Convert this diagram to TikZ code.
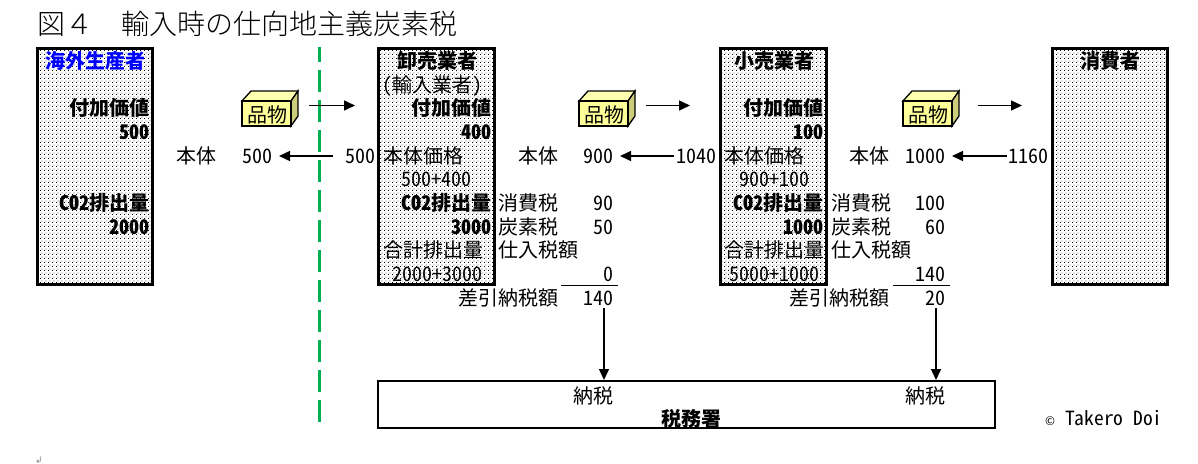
\documentclass[tikz,border=0pt]{standalone}
\usepackage{fontspec}
\setmainfont{Noto Sans CJK JP}[RawFeature=+hwid]
\newfontfamily\titlefont{Noto Sans CJK JP Light}
\newfontfamily\symbolfont{DejaVu Sans}
\usetikzlibrary{arrows.meta,patterns}
\definecolor{goodsfront}{HTML}{FFFF99}
\definecolor{goodstop}{HTML}{FFFFB0}
\definecolor{goodsside}{HTML}{CCCC7A}
\definecolor{borderline}{HTML}{00B050}
\newcommand{\diagfont}{\fontsize{20pt}{20pt}\selectfont}
\pgfdeclarepatternformonly{firmdots}{\pgfqpoint{0pt}{0pt}}{\pgfqpoint{4pt}{4pt}}{\pgfqpoint{4pt}{4pt}}{
    \pgfpathrectangle{\pgfqpoint{0pt}{0pt}}{\pgfqpoint{1pt}{1pt}}
    \pgfpathrectangle{\pgfqpoint{2pt}{2pt}}{\pgfqpoint{1pt}{1pt}}
    \pgfusepath{fill}
}
\tikzset{
    txt/.style={inner sep=0pt, font=\diagfont, text height=17.6pt, text depth=2.4pt},
    rtxt/.style={txt, anchor=east, xshift=1pt},
    ltxt/.style={txt, anchor=west},
    btxt/.style={txt, font=\diagfont\bfseries},
    brtxt/.style={btxt, anchor=east, xshift=1pt},
    firm/.style={draw, line width=3pt, inner sep=0pt, minimum height=236pt, pattern=firmdots},
    flow/.style={line width=1.5pt, -{Triangle[length=11pt, width=10pt]}},
    goodsbox/.pic={
        \draw[line width=1.3pt, fill=goodstop] (0,0) -- (9,-10) -- (56,-10) -- (49,0) -- cycle;
        \draw[line width=1.3pt, fill=goodsside] (49,0) -- (56,-10) -- (56,15) -- (49,25) -- cycle;
        \draw[line width=1.3pt, fill=goodsfront] (0,0) rectangle (49,25);
        \node[txt] (-label) at (25,14) {品物};
    }
}
\begin{document}
\begin{tikzpicture}[x=1pt, y=-1pt]
    \useasboundingbox (0,0) rectangle (1198,463);
    \node[ltxt, font=\fontsize{28pt}{28pt}\selectfont\titlefont, text height=24.6pt, text depth=3.4pt] (title) at (37,24) {図４　輸入時の仕向地主義炭素税};
    % firms
    \node[firm, minimum width=115pt] (producer) at (95,166.5) {};
    \node[firm, minimum width=116pt] (wholesaler) at (436.5,166.5) {};
    \node[firm, minimum width=106pt] (retailer) at (773.5,166.5) {};
    \node[firm, minimum width=114.5pt] (consumer) at (1109.75,166.5) {};
    \node[draw, line width=2pt, inner sep=0pt, minimum width=617pt, minimum height=47pt] (taxoffice) at (686.5,404.5) {};
    \coordinate (border1) at (319,47);
    \coordinate (border2) at (319,422);
    \draw[borderline, line width=3pt, dash pattern=on 22pt off 8pt, dash phase=7pt] (border1) -- (border2);
    % overseas producer
    \node[btxt, text=blue] (p1) at (95,61) {海外生産者};
    \node[brtxt] (p2) at (149,108) {付加価値};
    \node[brtxt] (p3) at (149,132) {500};
    \node[brtxt] (p4) at (149,203) {CO2排出量};
    \node[brtxt] (p5) at (149,227) {2000};
    \node[ltxt] (body1) at (176,156) {本体};
    \node[rtxt] (cost1) at (272,156) {500};
    \node[rtxt] (price1) at (375,156) {500};
    % wholesaler
    \node[btxt] (w1) at (437,61) {卸売業者};
    \node[txt] (w2) at (432,85) {(輸入業者)};
    \node[brtxt] (w3) at (491,108) {付加価値};
    \node[brtxt] (w4) at (491,132) {400};
    \node[ltxt] (w5) at (383,156) {本体価格};
    \node[txt] (w6) at (436,179) {500+400};
    \node[brtxt] (w7) at (491,203) {CO2排出量};
    \node[brtxt] (w8) at (491,227) {3000};
    \node[ltxt] (w9) at (383,250) {合計排出量};
    \node[txt] (w10) at (437,274) {2000+3000};
    \node[rtxt] (body2) at (558,156) {本体};
    \node[rtxt] (cost2) at (613,156) {900};
    \node[rtxt] (price2) at (716,156) {1040};
    \node[ltxt] (c1) at (498,203) {消費税};
    \node[rtxt] (c2) at (613,203) {90};
    \node[ltxt] (c3) at (498,227) {炭素税};
    \node[rtxt] (c4) at (613,227) {50};
    \node[ltxt] (c5) at (498,250) {仕入税額};
    \node[rtxt] (c6) at (613,274) {0};
    \node[rtxt] (c7) at (558,298) {差引納税額};
    \node[rtxt] (net1) at (613,298) {140};
    % retailer
    \node[btxt] (r1) at (774,61) {小売業者};
    \node[brtxt] (r2) at (823,108) {付加価値};
    \node[brtxt] (r3) at (823,132) {100};
    \node[ltxt] (r4) at (724,156) {本体価格};
    \node[txt] (r5) at (774,179) {900+100};
    \node[brtxt] (r6) at (823,203) {CO2排出量};
    \node[brtxt] (r7) at (823,227) {1000};
    \node[ltxt] (r8) at (724,250) {合計排出量};
    \node[txt] (r9) at (774,274) {5000+1000};
    \node[rtxt] (body3) at (889,156) {本体};
    \node[rtxt] (cost3) at (945,156) {1000};
    \node[rtxt] (price3) at (1048,156) {1160};
    \node[ltxt] (d1) at (831,203) {消費税};
    \node[rtxt] (d2) at (945,203) {100};
    \node[ltxt] (d3) at (831,227) {炭素税};
    \node[rtxt] (d4) at (945,227) {60};
    \node[ltxt] (d5) at (831,250) {仕入税額};
    \node[rtxt] (d6) at (945,274) {140};
    \node[rtxt] (d7) at (889,298) {差引納税額};
    \node[rtxt] (net2) at (945,298) {20};
    % consumer and tax office
    \node[btxt] (k1) at (1110,61) {消費者};
    \node[rtxt] (pay1) at (613,396) {納税};
    \node[rtxt] (pay2) at (945,396) {納税};
    \node[btxt] (office) at (691,419) {税務署};
    \node[ltxt, font=\fontsize{19.5pt}{19.5pt}\selectfont] (credit) at (1045,418) {{\fontsize{12pt}{12pt}\selectfont ©}\hspace{10pt}Takero Doi};
    \node[inner sep=0pt, gray, font=\fontsize{9pt}{9pt}\selectfont\symbolfont] (mark) at (39,460) {↲};
    % goods
    \pic (goods1) at (242,101) {goodsbox};
    \pic (goods2) at (579,101) {goodsbox};
    \pic (goods3) at (903,101) {goodsbox};
    \coordinate (g1a) at (309,105.5);
    \coordinate (g1b) at (355,105.5);
    \coordinate (g2a) at (646,105.5);
    \coordinate (g2b) at (690,105.5);
    \coordinate (g3a) at (978,105.5);
    \coordinate (g3b) at (1022,105.5);
    \draw[flow] (g1a) -- (g1b);
    \draw[flow] (g2a) -- (g2b);
    \draw[flow] (g3a) -- (g3b);
    % money
    \draw[flow, shorten <=13pt, shorten >=6pt] (price1) -- (cost1);
    \draw[flow, shorten <=3pt, shorten >=6pt] (price2) -- (cost2);
    \draw[flow, shorten <=2pt, shorten >=6pt] (price3) -- (cost3);
    % subtotal rules
    \coordinate (rule1a) at (561,285);
    \coordinate (rule1b) at (618,285);
    \coordinate (rule2a) at (893,285);
    \coordinate (rule2b) at (950,285);
    \draw[line width=1pt] (rule1a) -- (rule1b);
    \draw[line width=1pt] (rule2a) -- (rule2b);
    % tax payments
    \coordinate (tax1) at (604,380);
    \coordinate (tax2) at (936,380);
    \draw[flow] (net1.south -| tax1) -- (tax1);
    \draw[flow] (net2.south -| tax2) -- (tax2);
\end{tikzpicture}
\end{document}
